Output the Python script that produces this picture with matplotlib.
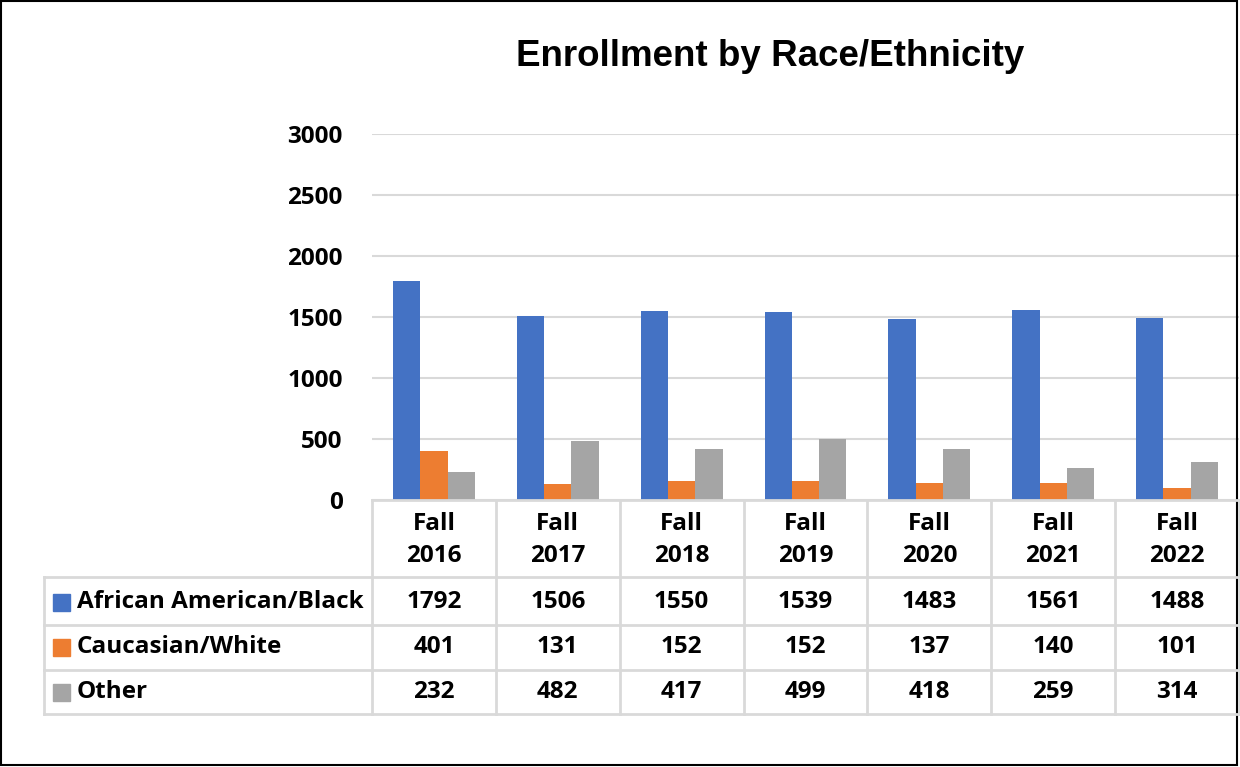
import matplotlib
matplotlib.use("Agg")
import matplotlib.pyplot as plt
import matplotlib.transforms as mtransforms
from matplotlib.patches import Rectangle

# data
terms = ["Fall\n2016", "Fall\n2017", "Fall\n2018", "Fall\n2019", "Fall\n2020", "Fall\n2021", "Fall\n2022"]
series = ["African American/Black", "Caucasian/White", "Other"]
black = [1792, 1506, 1550, 1539, 1483, 1561, 1488]
white = [401, 131, 152, 152, 137, 140, 101]
other = [232, 482, 417, 499, 418, 259, 314]
colors = ["#4472C4", "#ED7D31", "#A5A5A5"]
yticks = [0, 500, 1000, 1500, 2000, 2500, 3000]

W, H = 1240, 767
fig = plt.figure(figsize=(W / 100, H / 100), dpi=100)
font = "Open Sans"
fs = 17.5
grid_c = "#d9d9d9"

def fx(px):
    return px / W

def fy(py):
    return 1 - py / H

ax = fig.add_axes([fx(372), fy(500), fx(1239) - fx(372), fy(134) - fy(500)])
x = range(len(terms))
w = 0.22
for i, vals in enumerate([black, white, other]):
    ax.bar([k + (i - 1) * w for k in x], vals, width=w, color=colors[i], zorder=3)

ax.set_xlim(-0.5, len(terms) - 0.5)
ax.set_ylim(0, 3000)
ax.set_yticks(yticks)
ax.set_yticklabels([str(t) for t in yticks], fontfamily=font, fontweight="bold", fontsize=fs)
ax.tick_params(axis="y", length=0, pad=21)
ax.set_xticks([])
for s in ax.spines.values():
    s.set_visible(False)
ax.grid(axis="y", color=grid_c, linewidth=1.5, zorder=0)
ax.set_facecolor("none")

fig.text(fx(770), fy(56), "Enrollment by Race/Ethnicity", ha="center", va="center",
         fontfamily="Liberation Sans", fontweight="bold", fontsize=26.5)

# data table below the axis
trans = mtransforms.blended_transform_factory(ax.transData, fig.transFigure)
row_y = [577, 625, 670, 714]
lw = 2
fig.add_artist(plt.Line2D([fx(372), fx(1239)], [fy(500), fy(500)], color=grid_c, lw=lw))
for py in row_y:
    fig.add_artist(plt.Line2D([fx(44), fx(1239)], [fy(py), fy(py)], color=grid_c, lw=lw))
fig.add_artist(plt.Line2D([fx(44), fx(44)], [fy(577), fy(714)], color=grid_c, lw=lw))
for k in range(len(terms) + 1):
    xb = k - 0.5
    fig.add_artist(plt.Line2D([xb, xb], [fy(500), fy(714)], color=grid_c, lw=lw, transform=trans))

tkw = dict(fontfamily=font, fontweight="bold", fontsize=fs, ha="center", va="center")
for k, t in enumerate(terms):
    fig.text(k, fy(540), t, transform=trans, linespacing=1.5, **tkw)
row_centers = [602, 647, 692]
for r, (name, vals) in enumerate(zip(series, [black, white, other])):
    yc = fy(row_centers[r])
    fig.add_artist(Rectangle((fx(53), yc - 8.5 / H), 17 / W, 17 / H, color=colors[r],
                             transform=fig.transFigure))
    fig.text(fx(77), yc, name, fontfamily=font, fontweight="bold", fontsize=fs,
             ha="left", va="center")
    for k, v in enumerate(vals):
        fig.text(k, yc, str(v), transform=trans, **tkw)

fig.add_artist(Rectangle((fx(1), fy(765)), fx(1237) - fx(1), fy(1) - fy(765), fill=False,
                         edgecolor="black", lw=1.5, transform=fig.transFigure))

fig.savefig("out.png", dpi=100)
